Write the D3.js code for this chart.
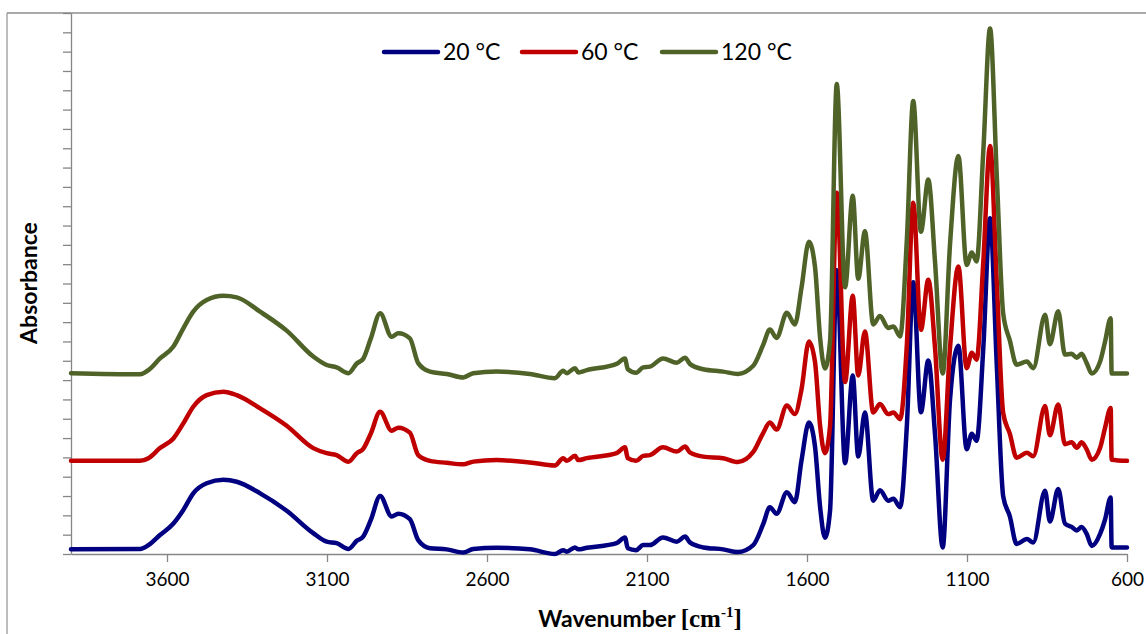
<!DOCTYPE html>
<html>
<head>
<meta charset="utf-8">
<script src="https://cdn.jsdelivr.net/npm/d3@7"></script>
<style>
  body { margin: 0; background: #fff; }
  svg { display: block; font-family: Lato, "Open Sans", sans-serif; }
  .axis path, .axis line { stroke: #868686; stroke-width: 1.3; }
  .axis text { fill: #000; font-size: 19px; font-family: Lato, sans-serif; }
</style>
</head>
<body>
<script>
// wavenumbers (cm-1), high to low as plotted
var wavenumbers = [3900, 3684, 3658, 3622, 3580, 3549, 3518, 3476, 3424, 3382, 3309, 3226, 3143, 3101, 3070, 3033, 3007, 2987, 2963, 2934,
  2898, 2877, 2841, 2815, 2778, 2726, 2674, 2643, 2570, 2466, 2388, 2362, 2351, 2325, 2315, 2288, 2195, 2169, 2160, 2134,
  2112, 2091, 2050, 2007, 1981, 1966, 1924, 1862, 1816, 1768, 1737, 1716, 1695, 1663, 1638, 1617, 1594, 1575, 1559, 1544,
  1528, 1507, 1481, 1457, 1440, 1419, 1393, 1372, 1346, 1330, 1309, 1288, 1268, 1244, 1221, 1200, 1176, 1153, 1127, 1101,
  1085, 1070, 1049, 1028, 1007, 987, 966, 945, 913, 893, 856, 841, 815, 794, 773, 757, 742, 726, 710, 684,
  669, 651, 648, 600];

var abs20 = [0.012, 0.013, 0.023, 0.049, 0.079, 0.114, 0.157, 0.183, 0.192, 0.187, 0.157, 0.112, 0.054, 0.032, 0.028, 0.013, 0.034, 0.045, 0.088, 0.150,
  0.097, 0.104, 0.090, 0.036, 0.015, 0.012, 0.004, 0.013, 0.016, 0.012, 0.000, 0.010, 0.006, 0.017, 0.012, 0.016, 0.028, 0.043, 0.015, 0.010,
  0.023, 0.023, 0.043, 0.032, 0.045, 0.030, 0.017, 0.012, 0.005, 0.023, 0.077, 0.121, 0.104, 0.160, 0.134, 0.243, 0.340, 0.278, 0.121, 0.042,
  0.112, 0.734, 0.235, 0.462, 0.252, 0.366, 0.138, 0.165, 0.138, 0.143, 0.121, 0.331, 0.703, 0.367, 0.501, 0.311, 0.017, 0.400, 0.539, 0.271,
  0.311, 0.293, 0.534, 0.869, 0.490, 0.150, 0.097, 0.026, 0.039, 0.030, 0.164, 0.084, 0.168, 0.079, 0.070, 0.061, 0.070, 0.052, 0.021, 0.052,
  0.088, 0.146, 0.017, 0.017];

var abs60 = [0.241, 0.241, 0.248, 0.274, 0.299, 0.338, 0.381, 0.411, 0.420, 0.411, 0.377, 0.332, 0.274, 0.261, 0.256, 0.239, 0.261, 0.272, 0.312, 0.368,
  0.319, 0.327, 0.314, 0.256, 0.241, 0.236, 0.232, 0.239, 0.243, 0.237, 0.229, 0.248, 0.241, 0.254, 0.243, 0.248, 0.261, 0.276, 0.248, 0.241,
  0.254, 0.256, 0.276, 0.265, 0.278, 0.263, 0.252, 0.248, 0.238, 0.264, 0.313, 0.340, 0.322, 0.384, 0.362, 0.427, 0.550, 0.497, 0.331, 0.261,
  0.331, 0.935, 0.445, 0.668, 0.462, 0.576, 0.366, 0.388, 0.362, 0.366, 0.349, 0.541, 0.909, 0.580, 0.710, 0.534, 0.244, 0.534, 0.744, 0.481,
  0.521, 0.503, 0.757, 1.056, 0.704, 0.365, 0.311, 0.249, 0.262, 0.253, 0.383, 0.307, 0.387, 0.284, 0.289, 0.275, 0.289, 0.271, 0.244, 0.275,
  0.325, 0.378, 0.244, 0.241];

var abs120 = [0.468, 0.465, 0.476, 0.506, 0.537, 0.584, 0.627, 0.657, 0.668, 0.664, 0.627, 0.578, 0.511, 0.489, 0.483, 0.468, 0.493, 0.505, 0.558, 0.623,
  0.562, 0.571, 0.558, 0.494, 0.472, 0.466, 0.457, 0.468, 0.472, 0.466, 0.455, 0.474, 0.468, 0.481, 0.470, 0.476, 0.492, 0.506, 0.478, 0.469,
  0.483, 0.485, 0.506, 0.495, 0.508, 0.492, 0.478, 0.472, 0.466, 0.487, 0.541, 0.581, 0.559, 0.624, 0.594, 0.690, 0.808, 0.743, 0.559, 0.480,
  0.550, 1.216, 0.690, 0.927, 0.712, 0.835, 0.594, 0.616, 0.585, 0.589, 0.563, 0.813, 1.172, 0.834, 0.969, 0.757, 0.467, 0.802, 1.030, 0.748,
  0.780, 0.757, 1.043, 1.360, 0.980, 0.623, 0.552, 0.490, 0.498, 0.481, 0.619, 0.543, 0.628, 0.516, 0.518, 0.508, 0.518, 0.494, 0.467, 0.498,
  0.548, 0.610, 0.467, 0.467];

var seriesNames = ["20 \u00B0C", "60 \u00B0C", "120 \u00B0C"];
var seriesColors = ["#000080", "#C00000", "#4F6228"];
var xTicks = [3600, 3100, 2600, 2100, 1600, 1100, 600];

var W = 1146, H = 634;
var margin = {top: 13, right: 19, bottom: 80, left: 71},
    width = W - margin.left - margin.right,
    height = H - margin.top - margin.bottom;

var svg = d3.select("body").append("svg")
    .attr("width", W)
    .attr("height", H);

// chart frame (only left and top visible)
svg.append("line").attr("x1", 7).attr("x2", 7).attr("y1", 13).attr("y2", H)
    .attr("stroke", "#bdbdbd").attr("stroke-width", 2);
svg.append("line").attr("x1", 7).attr("x2", W).attr("y1", 13).attr("y2", 13)
    .attr("stroke", "#8c8c8c").attr("stroke-width", 1.5);

var g = svg.append("g")
    .attr("transform", "translate(" + margin.left + "," + margin.top + ")");

var x = d3.scaleLinear().domain([3900, 600]).range([0, width]);
var y = d3.scaleLinear().domain([0, 1.4]).range([height, 0]);

// Y axis: ticks only, no labels
g.append("g")
    .attr("class", "axis")
    .call(d3.axisLeft(y)
        .tickValues(d3.range(0, 29).map(function(i) { return i * 0.05; }))
        .tickSize(8)
        .tickSizeOuter(0)
        .tickFormat(""));

// X axis
g.append("g")
    .attr("class", "axis")
    .attr("transform", "translate(0," + height + ")")
    .call(d3.axisBottom(x)
        .tickValues(xTicks)
        .tickSize(8)
        .tickSizeOuter(0)
        .tickPadding(11)
        .tickFormat(d3.format("d")));

// spectra
var series = [abs20, abs60, abs120];
var line = d3.line()
    .x(function(d, i) { return x(wavenumbers[i]); })
    .y(function(d) { return y(d); })
    .curve(d3.curveMonotoneX);

series.forEach(function(vals, k) {
  g.append("path")
      .datum(vals)
      .attr("fill", "none")
      .attr("stroke", seriesColors[k])
      .attr("stroke-width", 4.5)
      .attr("stroke-linejoin", "round")
      .attr("stroke-linecap", "round")
      .attr("d", line);
});

// legend
var legendX = [384, 522, 662];
var legend = svg.selectAll(".legend")
    .data(seriesNames)
    .enter().append("g")
    .attr("class", "legend")
    .attr("transform", function(d, i) { return "translate(" + legendX[i] + ",52)"; });

legend.append("line")
    .attr("x1", 0).attr("x2", 54)
    .attr("stroke", function(d, i) { return seriesColors[i]; })
    .attr("stroke-width", 4.5)
    .attr("stroke-linecap", "round");

legend.append("text")
    .attr("x", 59)
    .attr("y", 8)
    .style("font-size", "23px")
    .text(function(d) { return d; });

// axis titles
var xt = svg.append("text")
    .attr("x", 640)
    .attr("y", 627)
    .attr("text-anchor", "middle")
    .style("font-weight", "bold")
    .style("font-size", "23px");
xt.append("tspan").text("Wavenumber ");
xt.append("tspan").style("font-family", "'Liberation Serif', serif").style("font-size", "25px").text("[cm");
xt.append("tspan").style("font-family", "'Liberation Serif', serif")
    .style("font-size", "15px").attr("dy", -10).text("-1");
xt.append("tspan").style("font-family", "'Liberation Serif', serif").style("font-size", "25px").attr("dy", 10).text("]");

svg.append("text")
    .attr("transform", "translate(37,283) rotate(-90)")
    .attr("text-anchor", "middle")
    .style("font-weight", "bold")
    .style("font-size", "23px")
    .text("Absorbance");
</script>
</body>
</html>
